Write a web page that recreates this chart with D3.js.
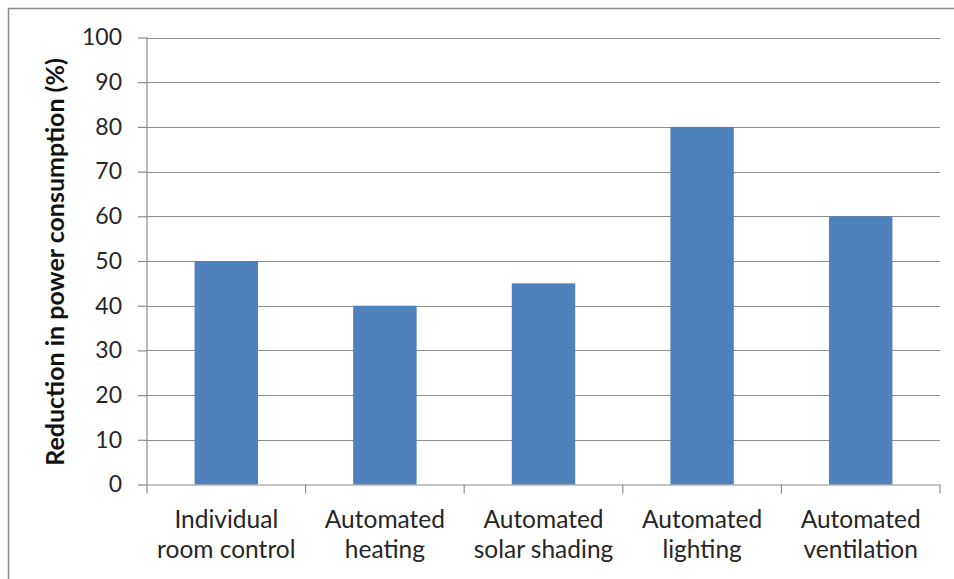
<!DOCTYPE html>
<html><head><meta charset="utf-8">
<script src="https://cdn.jsdelivr.net/npm/d3@7"></script>
<style>body{margin:0;background:#fff;} svg{display:block;}</style>
</head><body>
<svg id="c" width="954" height="579"></svg>
<script>
const categories = [["Individual","room control"],["Automated","heating"],["Automated","solar shading"],["Automated","lighting"],["Automated","ventilation"]];
const values = [50, 40, 45, 80, 60];
const yTicks = [0,10,20,30,40,50,60,70,80,90,100];
const yTitle = "Reduction in power consumption (%)";

const svg = d3.select("#c");
const font = "Lato, 'Open Sans', sans-serif";
svg.append("rect").attr("x",8.5).attr("y",8.5).attr("width",960).attr("height",600)
  .attr("fill","#fff").attr("stroke","#8a8a8a").attr("stroke-width",1.5);

const L=147, R=940, T=37.5, B=484.5;
const x = d3.scaleBand().domain(d3.range(categories.length)).range([L,R]).padding(0);
const y = d3.scaleLinear().domain([0,100]).range([B,T]);

// gridlines
svg.append("g").selectAll("line").data(yTicks.filter(d=>d>0)).join("line")
  .attr("x1",L).attr("x2",R).attr("y1",d=>Math.round(y(d))+0.5).attr("y2",d=>Math.round(y(d))+0.5)
  .attr("stroke","#8c8c8c").attr("stroke-width",1.2);

// bars
const bw = x.bandwidth()/2.5;
svg.append("g").selectAll("rect").data(values).join("rect")
  .attr("x",(d,i)=>x(i)+x.bandwidth()/2-bw/2).attr("width",bw)
  .attr("y",d=>y(d)).attr("height",d=>B-y(d)).attr("fill","#4f81bd");

// y axis
const ya = svg.append("g").attr("transform",`translate(${L},0)`)
  .call(d3.axisLeft(y).tickValues(yTicks).tickSize(9).tickPadding(16));
ya.select(".domain").attr("stroke","#8c8c8c").attr("stroke-width",1.2).attr("d",`M0,${T}V${B}`);
ya.selectAll(".tick line").attr("stroke","#8c8c8c").attr("stroke-width",1.2);
ya.selectAll(".tick text").attr("font-family",font).attr("font-size",23).attr("fill","#262626");

// x axis
svg.append("line").attr("x1",L).attr("x2",R).attr("y1",B+0.5).attr("y2",B+0.5).attr("stroke","#8c8c8c").attr("stroke-width",1.2);
const bounds = d3.range(categories.length+1).map(i=> i<categories.length ? x(i) : R);
svg.append("g").selectAll("line").data(bounds).join("line")
  .attr("x1",d=>d).attr("x2",d=>d).attr("y1",B).attr("y2",B+9)
  .attr("stroke","#8c8c8c").attr("stroke-width",1.2);

const lab = svg.append("g").selectAll("text").data(categories).join("text")
  .attr("x",(d,i)=>x(i)+x.bandwidth()/2).attr("y",528)
  .attr("text-anchor","middle").attr("font-family",font).attr("font-size",24.5).attr("fill","#262626");
lab.selectAll("tspan").data(d=>d).join("tspan")
  .attr("x",function(){return this.parentNode.getAttribute("x");})
  .attr("dy",(d,i)=>i===0?0:30).text(d=>d);

// y title
svg.append("text").attr("transform",`translate(64,262) rotate(-90)`)
  .attr("text-anchor","middle").attr("font-family",font).attr("font-weight","bold")
  .attr("font-size",25).attr("fill","#111").text(yTitle);
</script>
</body></html>
